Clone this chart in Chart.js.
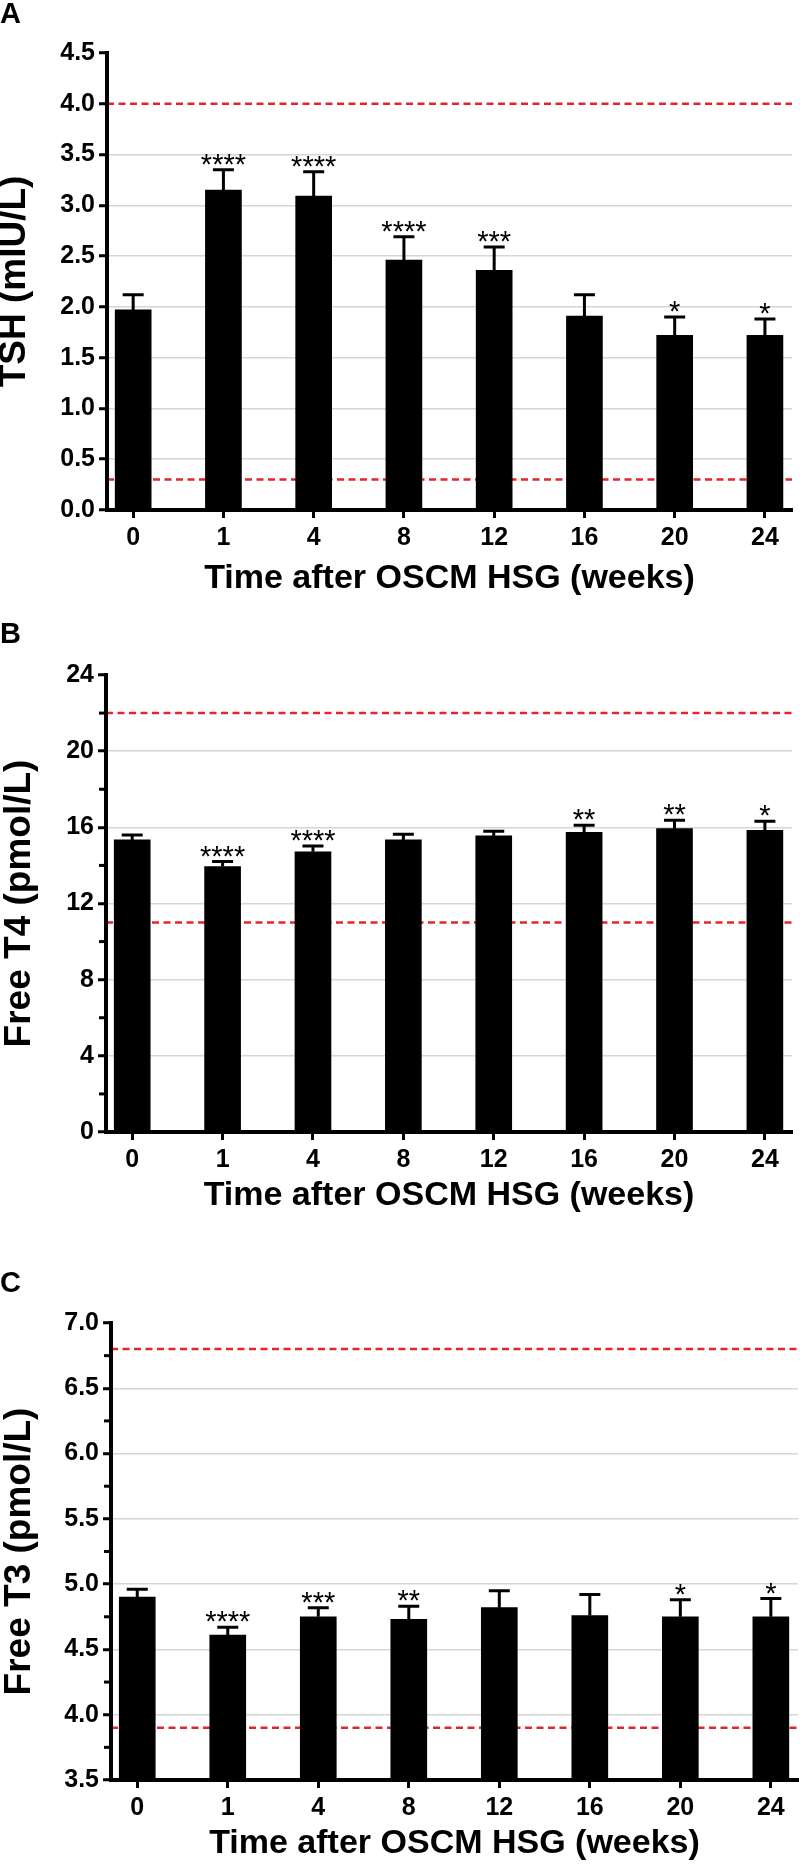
<!DOCTYPE html>
<html>
<head>
<meta charset="utf-8">
<script src="https://cdn.jsdelivr.net/npm/chart.js@4.4.1/dist/chart.umd.min.js"></script>
<style>
html,body{margin:0;padding:0;background:#fff;}
#wrap{position:relative;width:800px;height:1870px;}
canvas{position:absolute;left:0;}
</style>
</head>
<body>
<div id="wrap">
<canvas id="chartA" width="800" height="600" style="top:0px"></canvas>
<canvas id="chartB" width="800" height="616" style="top:600px"></canvas>
<canvas id="chartC" width="800" height="634" style="top:1236px"></canvas>
</div>
<script>
const weeks = ['0', '1', '4', '8', '12', '16', '20', '24']

// A - TSH
const tshMean = [1.97, 3.15, 3.09, 2.46, 2.36, 1.91, 1.72, 1.72]
const tshSem = [0.15, 0.20, 0.24, 0.23, 0.23, 0.21, 0.18, 0.16]
const tshStars = ['', '****', '****', '****', '***', '', '*', '*']
const tshTicks = [0, 0.5, 1, 1.5, 2, 2.5, 3, 3.5, 4, 4.5]
const tshMinor = []
const tshRange = [0.3, 4.0]

// B - free T4
const t4Mean = [15.34, 13.94, 14.72, 15.34, 15.55, 15.74, 15.93, 15.84]
const t4Sem = [0.26, 0.26, 0.30, 0.30, 0.25, 0.37, 0.44, 0.48]
const t4Stars = ['', '****', '****', '', '', '**', '**', '*']
const t4Ticks = [0, 4, 8, 12, 16, 20, 24]
const t4Minor = [2, 6, 10, 14, 18, 22]
const t4Range = [11, 22]

// C - free T3
const t3Mean = [4.90, 4.61, 4.75, 4.73, 4.82, 4.76, 4.75, 4.75]
const t3Sem = [0.06, 0.06, 0.07, 0.10, 0.13, 0.16, 0.13, 0.14]
const t3Stars = ['', '****', '***', '**', '', '', '*', '*']
const t3Ticks = [3.5, 4, 4.5, 5, 5.5, 6, 6.5, 7]
const t3Minor = [3.75, 4.25, 4.75, 5.25, 5.75, 6.25, 6.75]
const t3Range = [3.9, 6.8]

const FONT = "'Liberation Sans', Arial, Helvetica, sans-serif"
Chart.defaults.font.family = FONT
Chart.defaults.color = '#000'

const xMin = -0.29
const xMax = 7.3

function extrasPlugin(p) {
    return {
        id: 'extras',
        afterDatasetsDraw(chart) {
            const {ctx, scales: {x, y}} = chart
            ctx.save()
            ctx.strokeStyle = '#000'
            ctx.fillStyle = '#000'
            ctx.lineWidth = 3
            ctx.font = '29px ' + FONT
            ctx.textAlign = 'center'
            ctx.textBaseline = 'alphabetic'
            p.mean.forEach((m, i) => {
                const px = x.getPixelForValue(i)
                const top = y.getPixelForValue(m)
                const cap = y.getPixelForValue(m + p.sem[i])
                ctx.beginPath()
                ctx.moveTo(px, top)
                ctx.lineTo(px, cap)
                ctx.moveTo(px - 10.5, cap)
                ctx.lineTo(px + 10.5, cap)
                ctx.stroke()
                if (p.stars[i]) ctx.fillText(p.stars[i], px, cap + 4)
            })
            ctx.restore()
        },
        afterDraw(chart) {
            const {ctx, chartArea, scales: {y}} = chart
            ctx.save()
            ctx.strokeStyle = '#000'
            ctx.lineWidth = 3
            p.minor.forEach(v => {
                const py = y.getPixelForValue(v)
                ctx.beginPath()
                ctx.moveTo(chartArea.left - 7, py)
                ctx.lineTo(chartArea.left - 1, py)
                ctx.stroke()
            })
            ctx.fillStyle = '#000'
            ctx.font = 'bold 29px ' + FONT
            ctx.textAlign = 'left'
            ctx.textBaseline = 'alphabetic'
            ctx.fillText(p.letter, 0, p.letterY)
            ctx.restore()
        }
    }
}

function makePanel(id, p) {
    const canvasH = document.getElementById(id).height
    const yMin = p.ticks[0]
    const yMax = p.ticks[p.ticks.length - 1]
    const refLine = v => ({
        type: 'line',
        data: [{x: xMin, y: v}, {x: xMax, y: v}],
        borderColor: '#e3262b',
        borderWidth: 2.5,
        borderDash: [7, 4.5],
        pointRadius: 0,
        order: 1
    })
    return new Chart(document.getElementById(id), {
        type: 'bar',
        data: {
            datasets: [{
                data: p.mean.map((v, i) => ({x: i, y: v})),
                backgroundColor: '#000',
                borderWidth: 0,
                barThickness: 36,
                order: 0
            }, refLine(p.range[0]), refLine(p.range[1])]
        },
        options: {
            responsive: false,
            animation: false,
            devicePixelRatio: 1,
            layout: {
                padding: {top: p.area.top - p.top, right: 800 - p.area.right, bottom: p.padBottom, left: 0}
            },
            scales: {
                x: {
                    type: 'linear',
                    offset: false,
                    min: xMin,
                    max: xMax,
                    afterBuildTicks: s => { s.ticks = weeks.map((w, i) => ({value: i})) },
                    afterFit: s => { s.height = canvasH - p.padBottom - (p.area.bottom - p.top) },
                    ticks: {
                        callback: v => weeks[v],
                        font: {size: 25, weight: 'bold'},
                        color: '#000',
                        padding: 5,
                        maxRotation: 0,
                        autoSkip: false
                    },
                    grid: {offset: false, drawOnChartArea: false, drawTicks: true, tickLength: 8, tickWidth: 3, tickColor: '#000'},
                    border: {display: true, color: '#000', width: 4, z: 1},
                    title: {
                        display: true,
                        text: 'Time after OSCM HSG (weeks)',
                        font: {size: 34, weight: 'bold', lineHeight: 1.2},
                        color: '#000',
                        padding: 0
                    }
                },
                y: {
                    min: yMin,
                    max: yMax,
                    afterBuildTicks: s => { s.ticks = p.ticks.map(v => ({value: v})) },
                    afterFit: s => { s.width = p.area.left },
                    ticks: {
                        callback: v => p.fmt(v),
                        font: {size: 25, weight: 'bold'},
                        color: '#000',
                        padding: 4
                    },
                    grid: {
                        color: c => (c.tick && c.tick.value > yMin && c.tick.value < yMax && !p.range.includes(c.tick.value)) ? '#d6d6d6' : 'rgba(0,0,0,0)',
                        lineWidth: 1.5,
                        drawTicks: true,
                        tickLength: 8,
                        tickWidth: 3,
                        tickColor: '#000'
                    },
                    border: {display: true, color: '#000', width: 4, z: 1},
                    title: {
                        display: true,
                        text: p.yTitle,
                        font: {size: 37, weight: 'bold', lineHeight: 0.8},
                        color: '#000',
                        padding: {top: p.yTitlePad, bottom: 0}
                    }
                }
            },
            plugins: {
                legend: {display: false},
                tooltip: {enabled: false}
            }
        },
        plugins: [extrasPlugin(p)]
    })
}

makePanel('chartA', {
    letter: 'A', letterY: 23, top: 0,
    area: {top: 53, bottom: 510, left: 107, right: 792},
    padBottom: 1, yTitlePad: 0, yTitle: 'TSH (mIU/L)',
    mean: tshMean, sem: tshSem, stars: tshStars, ticks: tshTicks, minor: tshMinor, range: tshRange,
    fmt: v => v.toFixed(1)
})

makePanel('chartB', {
    letter: 'B', letterY: 43, top: 600,
    area: {top: 675, bottom: 1132, left: 106, right: 792},
    padBottom: 0, yTitlePad: 5, yTitle: 'Free T4 (pmol/L)',
    mean: t4Mean, sem: t4Sem, stars: t4Stars, ticks: t4Ticks, minor: t4Minor, range: t4Range,
    fmt: v => String(v)
})

makePanel('chartC', {
    letter: 'C', letterY: 56, top: 1236,
    area: {top: 1323, bottom: 1780, left: 111, right: 798},
    padBottom: 6, yTitlePad: 5, yTitle: 'Free T3 (pmol/L)',
    mean: t3Mean, sem: t3Sem, stars: t3Stars, ticks: t3Ticks, minor: t3Minor, range: t3Range,
    fmt: v => v.toFixed(1)
})
</script>
</body>
</html>
